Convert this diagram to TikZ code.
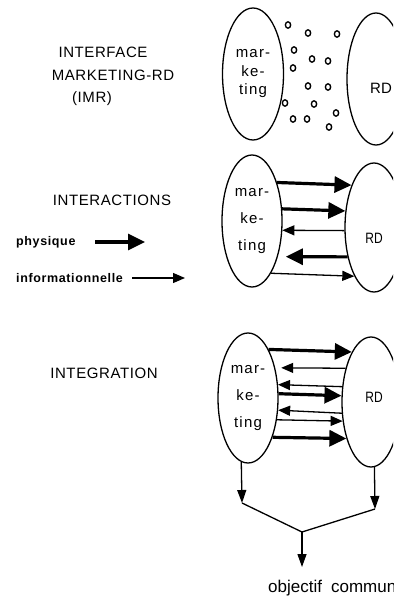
\documentclass[tikz,border=0pt]{standalone}
\usepackage{fontspec}
\setmainfont{Liberation Sans}
\usetikzlibrary{arrows.meta,shapes.geometric}
\tikzset{
  ell/.style={draw, ellipse, line width=1.3pt, inner sep=0pt, align=center},
  mtext/.style={font=\fontsize{15}{18.5}\selectfont\addfontfeature{LetterSpace=8}},
  mtextb/.style={font=\fontsize{15}{27}\selectfont\addfontfeature{LetterSpace=8}},
  rdtext/.style={font=\fontsize{15}{18}\selectfont, inner sep=0pt},
  title/.style={font=\fontsize{15}{18}\selectfont\addfontfeature{LetterSpace=4}, inner sep=0pt},
  legend/.style={font=\bfseries\fontsize{12.5}{15}\selectfont\addfontfeature{LetterSpace=5}, inner sep=0pt},
  thickarr/.style={line width=3.2pt, -{Triangle[length=17pt,width=16pt]}},
  thinarr/.style={line width=1.3pt, -{Triangle[length=12pt,width=10pt]}},
  downarr/.style={line width=1.3pt, -{Triangle[length=13pt,width=9pt]}},
  plain/.style={line width=1.3pt},
  dot/.style={line width=1.4pt}
}
\begin{document}
\begin{tikzpicture}[x=1pt,y=-1pt]
\useasboundingbox (0,0) rectangle (393,596);
\clip (0,0) rectangle (393,596);
\fill[white] (0,0) rectangle (393,596);

% ---------- titles ----------
\node[title] (t1a) at (103,52) {INTERFACE};
\node[title] (t1b) at (113,75) {MARKETING-RD};
\node[title] (t1c) at (92,99) {(IMR)};
\node[title] (t2) at (112,200) {INTERACTIONS};
\node[title] (t3) at (104,373) {INTEGRATION};

% ---------- legend ----------
\node[legend, anchor=west] (phys) at (16,242) {physique};
\coordinate (ps) at (95,242);
\coordinate (pe) at (145,242);
\draw[thickarr] (ps) -- (pe);
\node[legend, anchor=west] (info) at (16,278) {informationnelle};
\coordinate (is) at (132,278);
\coordinate (ie) at (185,278);
\draw[thinarr] (is) -- (ie);

% ---------- panel 1 ----------
\node[ell, mtext, minimum width=61pt, minimum height=132pt] (m1) at (253,74) {mar-\\ke-\\ting};
\node[ell, minimum width=58pt, minimum height=132pt] (r1) at (376,79) {};
\node[rdtext] (rd1) at (381,88) {RD};
\foreach \px/\py in {288/25,308/33,337/34,294/50,312/59,328/61,293/68,308/86,328/87,285/103,314/104,336/113,293/119,307/119,329/127}
  \draw[dot] (\px,\py) ellipse [x radius=2.6pt, y radius=3.2pt];

% ---------- panel 2 ----------
\node[ell, mtextb, minimum width=60pt, minimum height=132pt] (m2) at (252,221) {mar-\\ke-\\ting};
\node[ell, minimum width=58pt, minimum height=129pt] (r2) at (374,227.5) {};
\node[rdtext] (rd2) at (374,238) {\scalebox{0.8}[1]{RD}};
\draw[thickarr] (m2.57) -- (r2.118);
\draw[thickarr] (m2.22) -- (r2.150);
\draw[thinarr] (r2.186) -- (m2.343);
\draw[thickarr, shorten >=8pt] (r2.228) -- (m2.306);
\draw[thinarr] (m2.290) -- (r2.248);

% ---------- panel 3 ----------
\node[ell, mtextb, minimum width=60pt, minimum height=130pt] (m3) at (248,398) {mar-\\ke-\\ting};
\node[ell, minimum width=58pt, minimum height=130pt] (r3) at (371,402) {};
\node[rdtext] (rd3) at (374,397) {\scalebox{0.8}[1]{RD}};
\draw[thickarr] (m3.67) -- (r3.111);
\draw[thinarr, shorten >=6pt] (r3.127) -- (m3.48);
\draw[thinarr] (r3.152) -- (m3.24);
\draw[thickarr] (m3.8) -- (r3.168);
\draw[thinarr] (r3.201) -- (m3.338);
\draw[thinarr] (m3.323) -- (r3.214);
\draw[thickarr] (m3.302) -- (r3.236);

% ---------- convergence ----------
\coordinate (la) at (242,503);
\coordinate (ra) at (375,509);
\coordinate (j) at (302,532);
\coordinate (ot) at (302,567);
\draw[downarr] (m3.264.5) -- (la);
\draw[downarr] (r3.273.5) -- (ra);
\draw[plain, line join=round] (la) -- (j) -- (ra);
\draw[downarr] (j) -- (ot);
\node[anchor=base west, inner sep=0pt, font=\fontsize{17}{20}\selectfont] (obj) at (268,592) {objectif\hspace{9pt}commun};
\end{tikzpicture}
\end{document}
